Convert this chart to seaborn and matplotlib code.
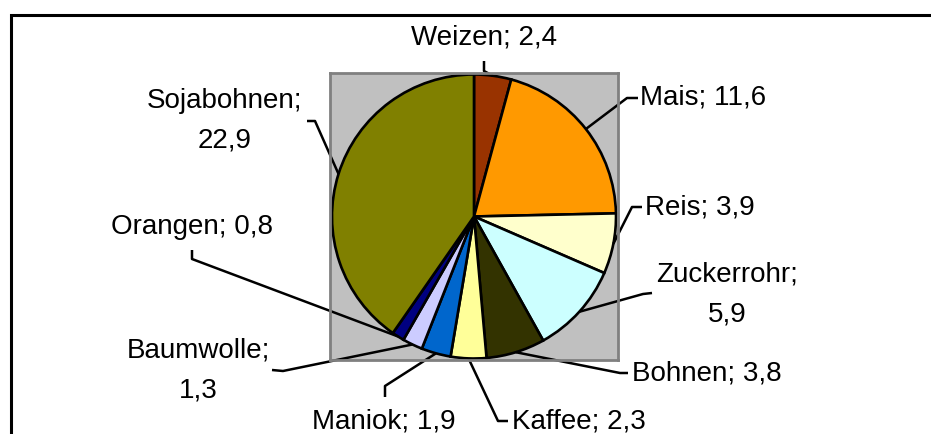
import numpy as np
import matplotlib
matplotlib.use("Agg")
import matplotlib.pyplot as plt
from matplotlib.patches import Rectangle
import seaborn as sns

# ---- data ----
categories = ["Weizen", "Mais", "Reis", "Zuckerrohr", "Bohnen", "Kaffee",
              "Maniok", "Baumwolle", "Orangen", "Sojabohnen"]
values = [2.4, 11.6, 3.9, 5.9, 3.8, 2.3, 1.9, 1.3, 0.8, 22.9]
two_line = ["Zuckerrohr", "Baumwolle", "Sojabohnen"]
colors = ["#993300", "#FF9900", "#FFFFCC", "#CCFFFF", "#333300", "#FFFF99",
          "#0066CC", "#CCCCFF", "#000080", "#808000"]

# ---- layout (pixels of a 931x434 canvas, y downwards) ----
W, H = 931, 434
box = (330, 73, 618, 360)          # grey plot area: left, top, right, bottom
cx, cy = (box[0] + box[2]) / 2, (box[1] + box[3]) / 2
R = 142
# text anchor position, horizontal alignment, leader stub (two points, text side first)
label_layout = {
    "Weizen":     ((484, 37),    "center", [(484, 61), (484, 71)]),
    "Mais":       ((640, 98),    "left",   [(638, 98), (627, 98)]),
    "Reis":       ((645, 208),   "left",   [(642, 207), (632, 207)]),
    "Zuckerrohr": ((727, 294.5), "center", [(652, 293), (643, 294)]),
    "Bohnen":     ((632, 373),   "left",   [(628, 373), (620, 373)]),
    "Kaffee":     ((512, 421),   "left",   [(508, 421), (498, 421)]),
    "Maniok":     ((384, 421),   "center", [(385, 397), (385, 386)]),
    "Baumwolle":  ((198, 370.5), "center", [(272, 370), (283, 371)]),
    "Orangen":    ((192, 227),   "center", [(192, 250), (192, 259)]),
    "Sojabohnen": ((225, 120.5), "center", [(307, 121), (315, 121)]),
}

sns.set_style("white")
plt.rcParams["font.family"] = ["Liberation Sans", "DejaVu Sans"]

fig = plt.figure(figsize=(W / 100, H / 100), dpi=100)
fig.patch.set_facecolor("white")

ax = fig.add_axes([box[0] / W, 1 - box[3] / H, (box[2] - box[0]) / W, (box[3] - box[1]) / H])
palette = sns.color_palette(colors)
wedges, _ = ax.pie(values, colors=palette, startangle=90, counterclock=False,
                   radius=R, center=(0, 0), frame=True,
                   wedgeprops=dict(edgecolor="black", linewidth=1.9))
hw, hh = (box[2] - box[0]) / 2, (box[3] - box[1]) / 2
ax.set_xlim(-hw, hw)
ax.set_ylim(-hh, hh)
ax.set_aspect("auto")
ax.set_facecolor("#C0C0C0")
ax.set_xticks([])
ax.set_yticks([])
for sp in ax.spines.values():
    sp.set_color("#808080")
    sp.set_linewidth(2)


def to_data(p):
    return p[0] - cx, cy - p[1]


def fmt(v):
    return f"{v:.1f}".replace(".", ",")


for name, val, w in zip(categories, values, wedges):
    (tx, ty), ha, stub = label_layout[name]
    sep = ";\n" if name in two_line else "; "
    dx, dy = to_data((tx, ty))
    ax.text(dx, dy, f"{name}{sep}{fmt(val)}", ha=ha, va="center",
            multialignment="center", fontsize=20, linespacing=1.7,
            color="black", clip_on=False)
    mid = np.deg2rad((w.theta1 + w.theta2) / 2)
    pts = [to_data(p) for p in stub] + [(R * np.cos(mid), R * np.sin(mid))]
    xs, ys = zip(*pts)
    ax.plot(xs, ys, color="black", lw=1.8, clip_on=False, solid_capstyle="butt")

# outer chart frame (only top and left visible in the crop)
fig.add_artist(Rectangle((10.8 / W, -0.2), 1.2, 1.2 - 14.8 / H,
                         transform=fig.transFigure, fill=False,
                         edgecolor="black", linewidth=2.2))

fig.savefig("out.png", dpi=100)
